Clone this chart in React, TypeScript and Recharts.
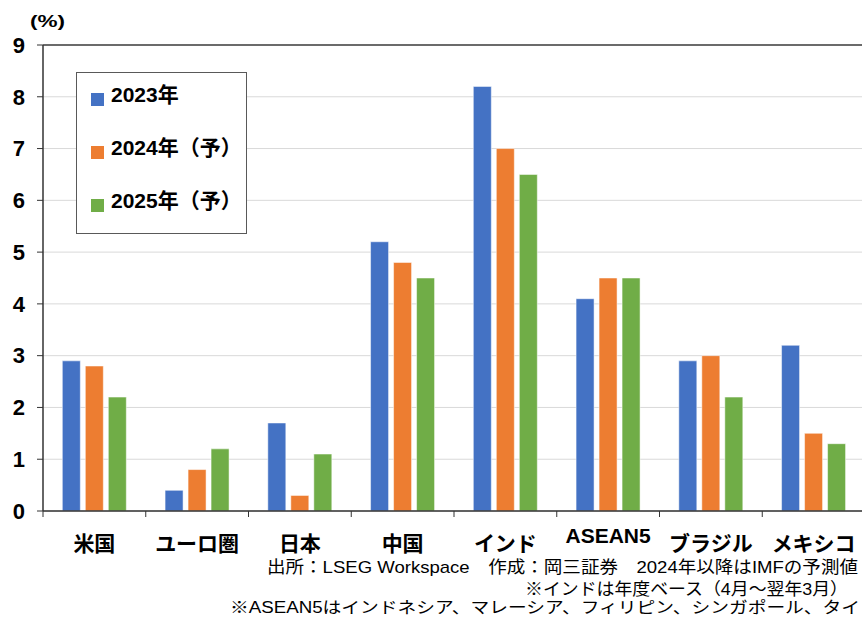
import React from 'react';
import { BarChart, Bar, XAxis, YAxis, CartesianGrid, ReferenceLine } from 'recharts';

const categories = ['米国', 'ユーロ圏', '日本', '中国', 'インド', 'ASEAN5', 'ブラジル', 'メキシコ'];
const values2023 = [2.9, 0.4, 1.7, 5.2, 8.2, 4.1, 2.9, 3.2];
const values2024 = [2.8, 0.8, 0.3, 4.8, 7.0, 4.5, 3.0, 1.5];
const values2025 = [2.2, 1.2, 1.1, 4.5, 6.5, 4.5, 2.2, 1.3];
const yTicks = [0, 1, 2, 3, 4, 5, 6, 7, 8, 9];
const seriesNames = ['2023年', '2024年（予）', '2025年（予）'];
const seriesColors = ['#4472C4', '#ED7D31', '#70AD47'];
const seriesKeys = ['y2023', 'y2024', 'y2025'];
const unitLabel = '(%)';
const footerLines = [
  '出所：LSEG Workspace　作成：岡三証券　2024年以降はIMFの予測値',
  '※インドは年度ベース（4月～翌年3月）',
  '※ASEAN5はインドネシア、マレーシア、フィリピン、シンガポール、タイ',
];

const data = categories.map((c, i) => ({
  name: c,
  y2023: values2023[i],
  y2024: values2024[i],
  y2025: values2025[i],
}));

const CHART_W = 866;
const CHART_H = 618;
const Y_AXIS_W = 43;
const MARGIN = { top: 45, right: 1, bottom: 47, left: 0 };
const BAND = (CHART_W - Y_AXIS_W - MARGIN.right) / categories.length;
const FONT = '"Liberation Sans", Arial, "Noto Sans CJK JP", sans-serif';
const NARROW = '"Liberation Sans Narrow", "Arial Narrow", "Liberation Sans", "Noto Sans CJK JP", sans-serif';
const AXIS_COLOR = '#333333';

const XTick = (props: any) => {
  const { x, y, payload } = props;
  const v = String(payload.value);
  const latin = /^[A-Za-z0-9]+$/.test(v);
  return (
    <g>
      <line x1={x - BAND / 2} x2={x - BAND / 2} y1={y} y2={y + 6} stroke={AXIS_COLOR} strokeWidth={1} />
      <text
        x={x}
        y={latin ? y + 32 : y + 40}
        textAnchor="middle"
        fontFamily={FONT}
        fontWeight="bold"
        fontSize={21}
        fill="#000"
      >
        {v}
      </text>
    </g>
  );
};

const legendSquareY = [93, 146, 199];

export default function App() {
  return (
    <div style={{ position: 'fixed', left: 0, top: 0, width: 862, height: 618, overflow: 'hidden', background: '#fff' }}>
      <BarChart
        width={CHART_W}
        height={CHART_H}
        data={data}
        margin={MARGIN}
        barCategoryGap="18.8%"
        barGap={5}
      >
        <CartesianGrid vertical={false} stroke="#d9d9d9" strokeWidth={1} />
        <XAxis
          dataKey="name"
          height={60}
          tickLine={false}
          tickSize={0}
          tickMargin={0}
          axisLine={{ stroke: AXIS_COLOR, strokeWidth: 1.5 }}
          tick={<XTick />}
          interval={0}
        />
        <YAxis
          width={Y_AXIS_W}
          domain={[0, 9]}
          ticks={yTicks}
          interval={0}
          tickSize={6}
          tickMargin={12}
          axisLine={{ stroke: AXIS_COLOR, strokeWidth: 1.5 }}
          tickLine={{ stroke: AXIS_COLOR }}
          tick={{ fontSize: 22, fontWeight: 'bold', fill: '#000', fontFamily: FONT }}
        />
        <ReferenceLine y={9} stroke="#404040" strokeWidth={1.5} />
        {seriesKeys.map((k, i) => (
          <Bar
            key={k}
            dataKey={k}
            name={seriesNames[i]}
            fill={seriesColors[i]}
            stroke="#ffffff"
            strokeOpacity={0.5}
            strokeWidth={1}
            isAnimationActive={false}
          />
        ))}
      </BarChart>
      <svg
        width={862}
        height={618}
        style={{ position: 'absolute', left: 0, top: 0, pointerEvents: 'none' }}
      >
        <text x={30} y={27} fontFamily={FONT} fontWeight="bold" fontSize={17} fill="#000" textLength={35} lengthAdjust="spacingAndGlyphs">
          {unitLabel}
        </text>
        <rect x={76.5} y={72.5} width={170} height={161} fill="#fff" stroke="#595959" strokeWidth={1} />
        {seriesNames.map((n, i) => (
          <g key={n}>
            <rect x={91} y={legendSquareY[i]} width={13} height={13} fill={seriesColors[i]} />
            <text
              x={111}
              y={legendSquareY[i] + 9}
              fontFamily={FONT}
              fontWeight="bold"
              fontSize={21}
              fill="#000"
            >
              {n}
            </text>
          </g>
        ))}
        <text x={267} y={573} fontFamily={NARROW} fontSize={17} fill="#000" textLength={591} lengthAdjust="spacingAndGlyphs">
          {footerLines[0]}
        </text>
        <text x={525} y={595} fontFamily={NARROW} fontSize={17} fill="#000" textLength={323} lengthAdjust="spacingAndGlyphs">
          {footerLines[1]}
        </text>
        <text x={230} y={613} fontFamily={NARROW} fontSize={16} fill="#000" textLength={630} lengthAdjust="spacingAndGlyphs">
          {footerLines[2]}
        </text>
      </svg>
    </div>
  );
}
